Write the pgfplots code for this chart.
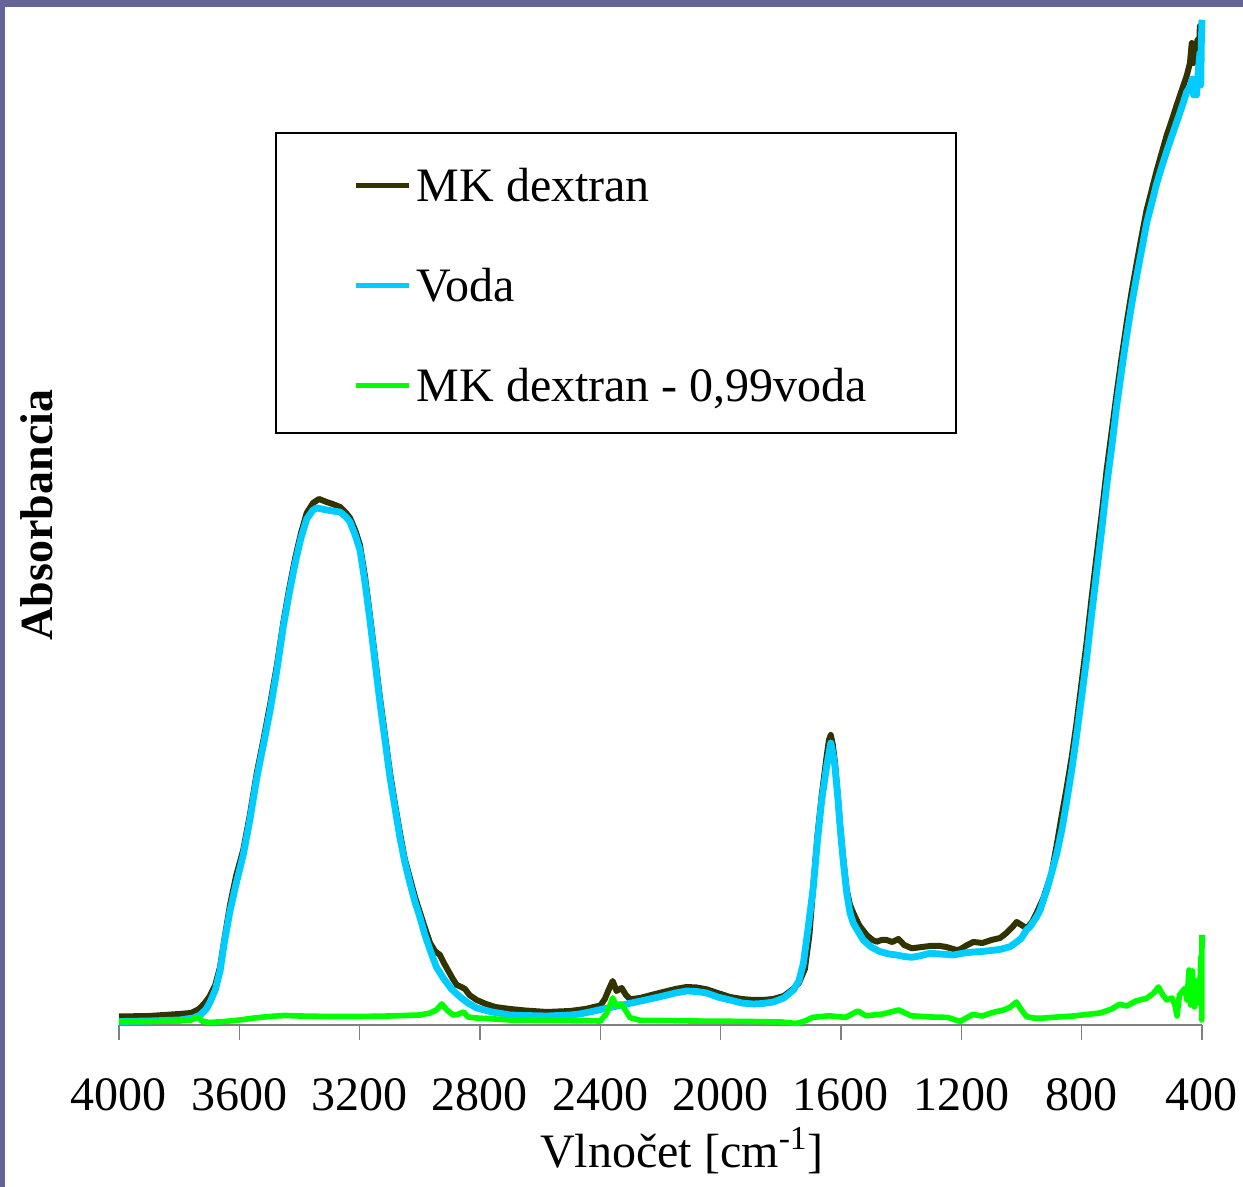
\documentclass[border=0pt]{standalone}
\usepackage{fontspec}
\setmainfont{Liberation Serif}
\usepackage{pgfplots}
\usepackage{pgfplotstable}
\pgfplotsset{compat=1.18}

\definecolor{mkdark}{RGB}{51,51,0}
\definecolor{vodablue}{RGB}{0,204,255}
\definecolor{diffgreen}{RGB}{0,255,0}
\definecolor{slideframe}{RGB}{100,100,152}

% heights (arbitrary absorbance units)
\pgfplotstableread{
wn A
4000 8.5
3900 9
3800 11
3760 12
3740 15
3730 17
3715 22
3700 28
3680 40
3664 58
3650 85
3631 120
3610 150
3587 175
3565 210
3542 252
3520 285
3498 320
3475 360
3454 402
3435 435
3415 466
3395 492
3376 512
3355 522
3335 526
3310 523
3290 521
3265 518
3245 512
3232 507
3215 495
3199 480
3182 448
3166 410
3149 368
3132 326
3115 288
3099 252
3082 220
3066 192
3050 166
3033 147
3016 128
2999 112
2983 97
2966 82
2950 74
2933 70
2920 62
2905 54
2890 46
2877 40
2862 38
2850 36
2835 30
2811 25
2780 21
2750 18
2700 16
2650 14.5
2578 13
2500 14
2450 16
2400 19.5
2385 26
2374 34
2359 44
2346 34
2329 37
2315 30
2301 25.7
2268 27
2230 30
2191 33
2150 36
2113 38
2080 37.5
2047 35.7
2010 32
1969 28
1930 26
1892 25
1860 25
1825 26
1790 29
1759 36
1740 42
1720 56
1705 90
1692 140
1678 190
1664 230
1648 268
1640 285
1634 290
1627 280
1620 262
1610 228
1603 200
1592 165
1581 135
1570 120
1559 112
1540 100
1515 90
1495 85
1481 83.3
1465 85
1448 85
1430 83
1409 86
1390 80
1365 76.7
1330 78
1304 79
1271 79
1250 78
1216 75
1204 75.7
1180 80
1160 83
1130 82
1100 85
1071 87
1050 92
1030 98
1016 103
1000 100
983 96.7
965 103
950 112
927 127
900 152
883 180
866 210
850 237
833 268
817 302
800 343
783 384
767 427
750 470
733 512
717 555
700 594
684 631
667 668
650 703
634 733
617 762
600 790
584 815
567 835
551 854
534 872
517 890
500 905
484 920
467 935
451 949
440 962
434 982
428 962
423 965
415 985
410 975
407 999
403 990
400 1005
}\mkdextran

\pgfplotstableread{
wn A
4000 3.5
3900 4
3800 5
3753 7
3730 10
3710 16
3697 23
3680 35
3664 54
3650 82
3631 114
3610 142
3587 170
3565 205
3542 247
3520 280
3498 314
3475 355
3454 398
3435 430
3415 461
3395 487
3376 506
3355 515
3343 517
3310 515
3290 514
3265 513
3245 508
3232 503
3215 490
3199 475
3182 442
3166 405
3149 363
3132 321
3115 283
3099 247
3082 216
3066 187
3050 163
3033 142
3016 123
2999 107
2983 90
2966 75
2945 58
2922 47
2895 36
2866 28
2840 22
2811 17
2760 13
2700 10
2650 9.5
2578 9
2500 10
2468 11
2420 14
2396 15.7
2350 18.5
2301 21.7
2250 25
2191 29
2150 32
2113 34
2080 33.5
2047 32
2010 28
1969 25
1930 22
1892 21
1860 21.5
1825 23
1790 27
1758 35
1740 44
1725 61.7
1708 100
1692 138
1678 185
1664 225
1648 258
1640 272
1634 282
1627 272
1620 258
1610 225
1603 198
1592 162
1581 132
1570 112
1559 101.7
1540 92
1526 85
1500 78
1470 73.3
1440 71
1415 70
1390 68.5
1365 67.7
1340 69
1304 71.7
1270 71
1227 70
1190 72
1160 73
1138 73.3
1100 74.5
1071 75.6
1038 78.3
1016 83
1000 87
983 95.3
972 98
950 108
938 115
927 125
916 135
900 152
883 171
866 195
850 223
833 255
817 289
800 328
783 368
767 410
750 453
733 496
717 539
700 578
684 618
667 655
650 690
634 720
617 749
600 776
584 802
567 822
551 841
534 858
517 874
500 889
484 903
467 918
451 933
440 938
432 946
428 930
423 946
418 930
412 955
407 972
404 940
402 985
400 1005
}\voda

\pgfplotstableread{
wn A
4000 3.5
3900 3.5
3800 4
3760 5
3737 8
3725 4
3700 2.5
3650 3.5
3600 5
3550 7
3500 8.5
3450 9.5
3400 9
3300 8.5
3200 8.5
3100 9
3000 10
2966 12
2945 15
2927 21
2910 15
2890 10
2875 10.5
2855 13
2840 8
2811 7
2750 6
2700 5
2600 4.7
2500 4.3
2400 4
2381 10.7
2370 18
2359 27
2346 19
2335 21
2329 20.7
2315 14
2301 7.3
2268 4.7
2200 4.5
2100 4
2000 3.8
1900 3.5
1800 3
1748 1.5
1720 4
1694 7.6
1640 9.2
1585 7.6
1544 14
1517 9.2
1463 10.9
1408 15
1367 9.2
1300 8
1245 7.6
1204 3.5
1163 10.5
1130 9
1096 12.5
1060 15
1038 17.7
1017 23
1000 15
983 8.3
960 7
938 6.7
880 8
828 9
769 11
739 12
700 16
674 20.7
650 19
620 24
584 26.7
560 32
545 38
530 30
517 25
500 27
490 20
483 9
475 30
457 36.7
450 25
443 55
438 20
432 54
425 18
418 30
412 45
408 22
404 68
402 30
401 5
400 90
}\rozdiel

\begin{document}
\begin{tikzpicture}
\useasboundingbox (0pt,0pt) rectangle (621.5pt,593.5pt);
\fill[white] (0pt,0pt) rectangle (621.5pt,593.5pt);
\fill[slideframe] (0pt,590pt) rectangle (621.5pt,593.5pt);
\fill[slideframe] (0pt,0pt) rectangle (2.5pt,593.5pt);

\begin{axis}[
    at={(59.5pt,81pt)}, anchor=south west,
    scale only axis, width=541.5pt, height=502.5pt,
    xmin=400, xmax=4000, ymin=0, ymax=1005,
    x dir=reverse,
    axis x line=bottom, axis y line=none,
    x axis line style={-, draw=gray, line width=0.8pt},
    xtick={400,800,...,4000},
    xtick align=outside, major tick length=7.5pt,
    xtick style={gray, line width=0.8pt},
    scaled x ticks=false,
    /pgf/number format/1000 sep={},
    /pgf/number format/assume math mode=true,
    xticklabel style={font=\fontsize{24}{28}\selectfont, inner sep=0pt, anchor=north, yshift=-19pt},
    clip=false,
    no markers,
    legend cell align=left,
    legend image code/.code={\draw[#1, line width=2.2pt] (0pt,0pt) -- (26.5pt,0pt);},
    legend style={draw=none, fill=none, at={(axis description cs:0.2160,0.8517)}, anchor=north west,
        inner sep=0pt, row sep=34pt, font=\fontsize{24}{28}\selectfont,
        nodes={inner sep=0pt, text height=16pt, text depth=0pt},
        /tikz/every odd column/.append style={column sep=3pt}},
]
\addplot[mkdark, line width=3pt, line join=round] table[x=wn, y=A] {\mkdextran};
\addlegendentry{MK dextran}
\addplot[vodablue, line width=3.4pt, line join=round] table[x=wn, y=A] {\voda};
\addlegendentry{Voda}
\addplot[diffgreen, line width=2.8pt, line join=round] table[x=wn, y=A] {\rozdiel};
\addlegendentry{MK dextran - 0,99voda}
\end{axis}

\draw[black, line width=0.75pt] (138pt,377pt) rectangle (478pt,527pt);
\node[anchor=base, font=\fontsize{24}{28}\selectfont] at (341pt,9.5pt) {Vlnočet [cm\textsuperscript{-1}]};
\node[anchor=base, rotate=90, font=\fontsize{23}{28}\selectfont\bfseries] at (26pt,336pt) {Absorbancia};
\end{tikzpicture}
\end{document}
